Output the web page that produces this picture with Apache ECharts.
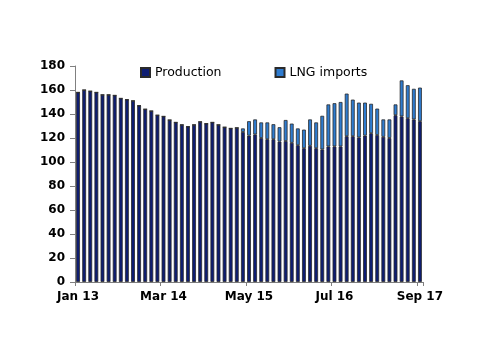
<!DOCTYPE html>
<html>
<head>
<meta charset="utf-8">
<script src="https://cdn.jsdelivr.net/npm/echarts@6/dist/echarts.min.js"></script>
<style>
html,body{margin:0;padding:0;background:#fff;}
#chart{width:500px;height:354px;}
</style>
</head>
<body>
<div id="chart"></div>
<script>
var categories = [
 "Jan 13","Feb 13","Mar 13","Apr 13","May 13","Jun 13","Jul 13","Aug 13","Sep 13","Oct 13","Nov 13","Dec 13",
 "Jan 14","Feb 14","Mar 14","Apr 14","May 14","Jun 14","Jul 14","Aug 14","Sep 14","Oct 14","Nov 14","Dec 14",
 "Jan 15","Feb 15","Mar 15","Apr 15","May 15","Jun 15","Jul 15","Aug 15","Sep 15","Oct 15","Nov 15","Dec 15",
 "Jan 16","Feb 16","Mar 16","Apr 16","May 16","Jun 16","Jul 16","Aug 16","Sep 16","Oct 16","Nov 16","Dec 16",
 "Jan 17","Feb 17","Mar 17","Apr 17","May 17","Jun 17","Jul 17","Aug 17","Sep 17"
];
var production = [
 158,160,159,158,156,156,155.5,153,152,151,147,144,
 142.5,139,138,135,133,131,129.5,131,133.5,132,133,131,
 129,128,128.5,125,122,123,120,119,119,117,117.5,116,
 114,111.5,113.5,111.5,110.5,113,113,113,121.5,121.5,120.5,122,
 124,122.5,121,120,139,138,136.5,135.5,134
];
var lngImports = [
 0,0,0,0,0,0,0,0,0,0,0,0,
 0,0,0,0,0,0,0,0,0,0,0,0,
 0,0,0,3,12,12.5,13,14,12.5,12,17.5,16,
 14,15.5,22,21.5,28,35,36,37,35.5,30.5,29,27.5,
 24.5,22,14.5,15.5,9,30,27.5,25.5,28
];
var yTicks = {min: 0, max: 180, interval: 20};

var chart = echarts.init(document.getElementById('chart'), null, {renderer: 'canvas'});
var axisFont = {fontFamily: 'DejaVu Sans', fontWeight: 'bold', fontSize: 12, color: '#000'};
chart.setOption({
  animation: false,
  backgroundColor: '#fff',
  grid: {left: 75, right: 77, top: 66, bottom: 72, containLabel: false},
  legend: {
    left: 140, top: 66, padding: 0,
    itemWidth: 9, itemHeight: 9, itemGap: 53,
    icon: 'rect',
    textStyle: {fontFamily: 'DejaVu Sans', fontSize: 12.5, color: '#000'},
    data: ['Production', 'LNG imports']
  },
  xAxis: {
    type: 'category',
    data: categories,
    boundaryGap: true,
    axisLine: {show: true, lineStyle: {color: '#808080', width: 1}},
    axisTick: {show: true, interval: 13, length: 4, lineStyle: {color: '#808080'}},
    axisLabel: Object.assign({interval: 13, margin: 9}, axisFont),
    splitLine: {show: false}
  },
  yAxis: {
    type: 'value',
    min: yTicks.min, max: yTicks.max, interval: yTicks.interval,
    axisLine: {show: true, lineStyle: {color: '#808080', width: 1}},
    axisTick: {show: true, length: 5, lineStyle: {color: '#808080'}},
    axisLabel: Object.assign({margin: 10}, axisFont),
    splitLine: {show: false}
  },
  series: [
    {
      name: 'Production', type: 'bar', stack: 'total',
      data: production, barWidth: 3.8,
      itemStyle: {color: '#0e1d72', borderColor: '#2a2a2a', borderWidth: 0.8}
    },
    {
      name: 'LNG imports', type: 'bar', stack: 'total',
      data: lngImports, barWidth: 3.8,
      itemStyle: {color: '#2e7bcf', borderColor: '#2a2a2a', borderWidth: 0.8}
    }
  ]
});
</script>
</body>
</html>
